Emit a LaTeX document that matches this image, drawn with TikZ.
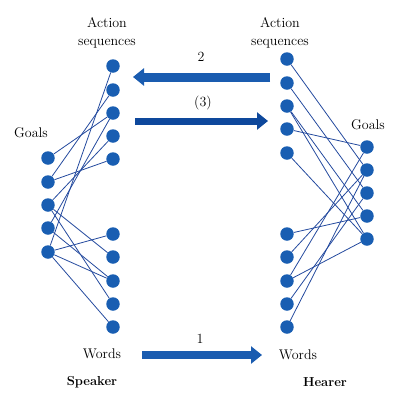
\documentclass[tikz,border=0pt]{standalone}
\usetikzlibrary{arrows.meta}
\definecolor{nodeblue}{RGB}{25,94,178}
\definecolor{lineblue}{RGB}{36,74,158}
\definecolor{arrowblue}{RGB}{26,92,176}
\definecolor{darkarrow}{RGB}{14,72,156}
\tikzset{
  dot/.style={circle, fill=nodeblue, minimum size=13.5pt, inner sep=0pt},
  link/.style={draw=lineblue, line width=0.8pt},
  lbl/.style={font=\fontsize{14}{18}\selectfont, inner sep=0pt, align=center},
  bold/.style={font=\fontsize{13}{18}\selectfont\bfseries, inner sep=0pt},
  bigarrow/.style={draw=arrowblue, line width=9pt, -{Triangle[length=11pt,width=17pt]}},
}
\begin{document}
\begin{tikzpicture}[x=1pt,y=-1pt]
\useasboundingbox (0,0) rectangle (400,400);
% left side
\foreach \i/\y in {1/66,2/90,3/113,4/136,5/159} \node[dot] (LA\i) at (113,\y) {};
\foreach \i/\y in {1/158,2/182,3/205,4/228,5/252} \node[dot] (LG\i) at (48,\y) {};
\foreach \i/\y in {1/234,2/257,3/281,4/304,5/327} \node[dot] (LW\i) at (113,\y) {};
% right side
\foreach \i/\y in {1/59,2/83,3/106,4/129,5/153} \node[dot] (RA\i) at (287,\y) {};
\foreach \i/\y in {1/147,2/170,3/193,4/216,5/239} \node[dot] (RG\i) at (367,\y) {};
\foreach \i/\y in {1/234,2/257,3/281,4/304,5/327} \node[dot] (RW\i) at (287,\y) {};
% left links
\foreach \a/\b in {LA1/LG5, LA2/LG2, LA3/LG1, LA4/LG3, LA5/LG2, LA3/LG4,
                   LG3/LW2, LG3/LW4, LG4/LW3, LG5/LW1, LG5/LW3, LG5/LW5}
  \draw[link] (\a) -- (\b);
% right links
\foreach \a/\b in {RA1/RG2, RA2/RG3, RA3/RG4, RA3/RG5, RA4/RG1, RA5/RG5,
                   RW1/RG4, RW2/RG2, RW3/RG1, RW3/RG5, RW4/RG3, RW5/RG2}
  \draw[link] (\a) -- (\b);
% labels
\node[lbl] (tla) at (107,33) {Action\\sequences};
\node[lbl] (tra) at (280,33) {Action\\sequences};
\node[lbl] (tlg) at (31,133) {Goals};
\node[lbl] (trg) at (368,125) {Goals};
\node[lbl] (tlw) at (102,354) {Words};
\node[lbl] (trw) at (298,355) {Words};
\node[bold] (spk) at (92,382) {Speaker};
\node[bold] (hea) at (325,382) {Hearer};
% big arrows
\coordinate (a2s) at (270,77);
\coordinate (a2e) at (133,77);
\coordinate (a3s) at (135,121);
\coordinate (a3e) at (268,121);
\coordinate (a1s) at (142,355);
\coordinate (a1e) at (262,355);
\draw[bigarrow] (a2s) -- (a2e);
\draw[bigarrow, draw=darkarrow, line width=7pt] (a3s) -- (a3e);
\draw[bigarrow, line width=8pt] (a1s) -- (a1e);
\node[lbl] (n2) at (201,57) {2};
\node[lbl] (n3) at (203,103) {(3)};
\node[lbl] (n1) at (200,339) {1};
\end{tikzpicture}
\end{document}
